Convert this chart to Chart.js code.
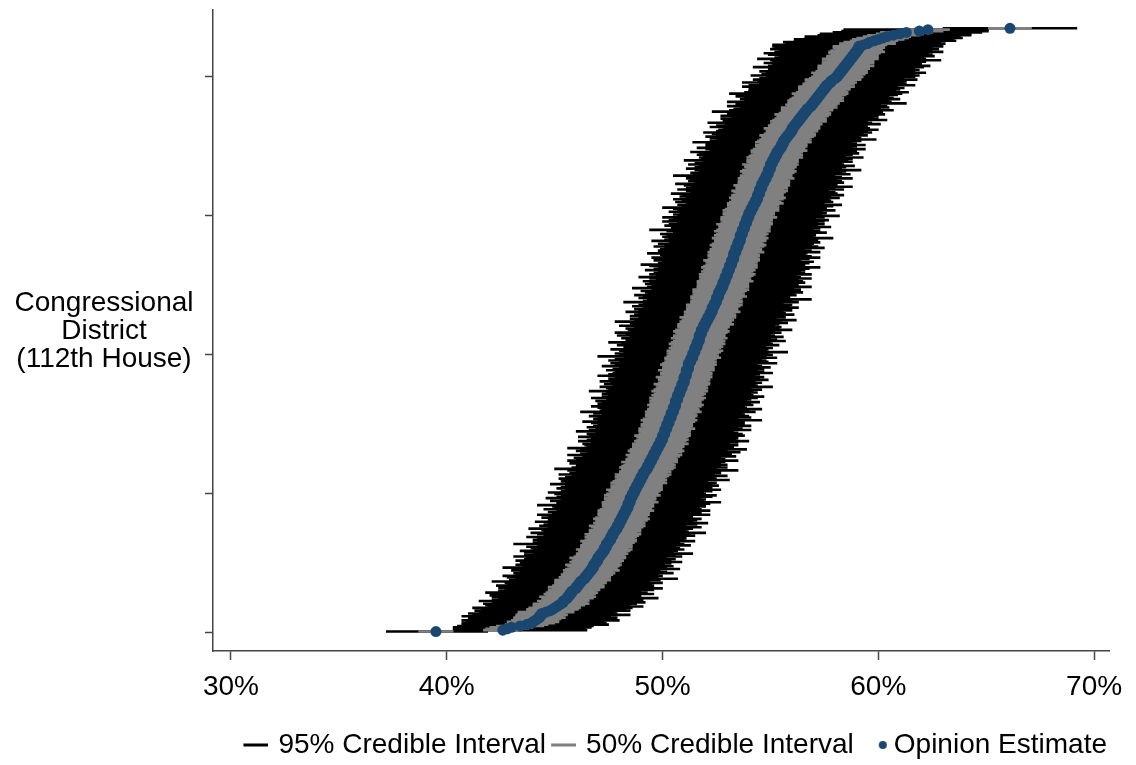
<!DOCTYPE html>
<html>
<head>
<meta charset="utf-8">
<script src="https://cdn.jsdelivr.net/npm/chart.js@4"></script>
<style>
  body { margin: 0; background: #fff; }
  #chart { display: block; }
</style>
</head>
<body>
<canvas id="chart" width="1136" height="765"></canvas>
<script>
// opinion estimate per district, sorted (rank 1 at the bottom)
const estimate = [
  39.5, 42.6, 42.8, 43.0, 43.4, 43.7, 43.9, 44.0, 44.1, 44.2,
  44.3, 44.3, 44.4, 44.4, 44.6, 44.8, 44.9, 45.0, 45.1, 45.2,
  45.3, 45.4, 45.4, 45.5, 45.6, 45.6, 45.7, 45.7, 45.8, 45.8,
  45.9, 46.0, 46.0, 46.1, 46.1, 46.2, 46.2, 46.3, 46.4, 46.4,
  46.5, 46.5, 46.6, 46.6, 46.7, 46.7, 46.8, 46.8, 46.8, 46.9,
  46.9, 47.0, 47.0, 47.0, 47.1, 47.1, 47.2, 47.2, 47.3, 47.3,
  47.3, 47.4, 47.4, 47.4, 47.5, 47.5, 47.6, 47.6, 47.6, 47.7,
  47.7, 47.7, 47.8, 47.8, 47.9, 47.9, 47.9, 48.0, 48.0, 48.0,
  48.1, 48.1, 48.1, 48.2, 48.2, 48.2, 48.3, 48.3, 48.3, 48.4,
  48.4, 48.4, 48.4, 48.5, 48.5, 48.5, 48.5, 48.6, 48.6, 48.6,
  48.7, 48.7, 48.7, 48.8, 48.8, 48.8, 48.9, 48.9, 48.9, 49.0,
  49.0, 49.0, 49.1, 49.1, 49.1, 49.2, 49.2, 49.3, 49.3, 49.3,
  49.4, 49.4, 49.4, 49.5, 49.5, 49.5, 49.6, 49.6, 49.6, 49.7,
  49.7, 49.7, 49.8, 49.8, 49.8, 49.9, 49.9, 49.9, 50.0, 50.0,
  50.0, 50.0, 50.1, 50.1, 50.1, 50.1, 50.2, 50.2, 50.2, 50.2,
  50.3, 50.3, 50.3, 50.3, 50.4, 50.4, 50.4, 50.4, 50.5, 50.5,
  50.5, 50.5, 50.6, 50.6, 50.6, 50.6, 50.6, 50.7, 50.7, 50.7,
  50.7, 50.8, 50.8, 50.8, 50.8, 50.9, 50.9, 50.9, 50.9, 51.0,
  51.0, 51.0, 51.0, 51.0, 51.1, 51.1, 51.1, 51.1, 51.1, 51.2,
  51.2, 51.2, 51.2, 51.2, 51.3, 51.3, 51.3, 51.4, 51.4, 51.4,
  51.4, 51.5, 51.5, 51.5, 51.5, 51.6, 51.6, 51.6, 51.6, 51.7,
  51.7, 51.7, 51.7, 51.7, 51.8, 51.8, 51.8, 51.8, 51.9, 51.9,
  51.9, 52.0, 52.0, 52.0, 52.1, 52.1, 52.1, 52.2, 52.2, 52.2,
  52.3, 52.3, 52.3, 52.3, 52.4, 52.4, 52.4, 52.5, 52.5, 52.5,
  52.5, 52.6, 52.6, 52.6, 52.6, 52.7, 52.7, 52.7, 52.8, 52.8,
  52.8, 52.8, 52.9, 52.9, 52.9, 52.9, 53.0, 53.0, 53.0, 53.0,
  53.1, 53.1, 53.1, 53.1, 53.2, 53.2, 53.2, 53.2, 53.3, 53.3,
  53.3, 53.3, 53.3, 53.4, 53.4, 53.4, 53.4, 53.5, 53.5, 53.5,
  53.5, 53.6, 53.6, 53.6, 53.6, 53.6, 53.7, 53.7, 53.7, 53.7,
  53.8, 53.8, 53.8, 53.8, 53.9, 53.9, 53.9, 53.9, 54.0, 54.0,
  54.0, 54.0, 54.1, 54.1, 54.1, 54.2, 54.2, 54.2, 54.3, 54.3,
  54.3, 54.4, 54.4, 54.4, 54.4, 54.5, 54.5, 54.5, 54.5, 54.6,
  54.6, 54.6, 54.6, 54.7, 54.7, 54.7, 54.8, 54.8, 54.8, 54.9,
  54.9, 54.9, 54.9, 55.0, 55.0, 55.0, 55.0, 55.1, 55.1, 55.1,
  55.2, 55.2, 55.2, 55.3, 55.3, 55.3, 55.4, 55.4, 55.5, 55.5,
  55.5, 55.6, 55.6, 55.6, 55.7, 55.7, 55.8, 55.8, 55.9, 55.9,
  56.0, 56.0, 56.0, 56.1, 56.1, 56.2, 56.2, 56.3, 56.3, 56.4,
  56.4, 56.5, 56.5, 56.6, 56.6, 56.7, 56.7, 56.8, 56.9, 56.9,
  57.0, 57.0, 57.1, 57.1, 57.2, 57.2, 57.3, 57.3, 57.4, 57.4,
  57.5, 57.5, 57.6, 57.6, 57.7, 57.8, 57.8, 57.9, 58.0, 58.1,
  58.1, 58.2, 58.2, 58.3, 58.3, 58.4, 58.4, 58.5, 58.5, 58.6,
  58.6, 58.7, 58.7, 58.8, 58.8, 58.9, 58.9, 59.0, 59.0, 59.1,
  59.1, 59.1, 59.3, 59.5, 59.6, 59.8, 60.0, 60.2, 60.4, 60.7,
  61.0, 61.3, 61.9, 62.3, 66.1
];

// distance from the estimate down to the lower end of the 95% interval
const ci95Below = [
  2.3, 2.3, 2.5, 2.7, 2.9, 3.0, 3.2, 3.1, 3.4, 3.2,
  3.3, 3.6, 3.2, 3.4, 3.1, 3.5, 3.3, 3.8, 3.2, 3.4,
  3.6, 3.3, 3.9, 3.4, 3.2, 3.5, 3.7, 3.3, 4.0, 3.4,
  3.2, 3.6, 3.4, 3.8, 3.3, 3.5, 4.1, 3.4, 3.2, 3.6,
  3.9, 3.3, 3.5, 3.2, 3.7, 3.4, 4.2, 3.3, 3.6, 3.5,
  3.2, 3.8, 3.4, 3.3, 4.0, 3.5, 3.2, 3.6, 3.9, 3.3,
  3.4, 3.7, 3.2, 4.3, 3.5, 3.3, 3.6, 3.4, 3.9, 3.2,
  3.5, 3.8, 3.3, 3.4, 4.1, 3.2, 3.6, 3.5, 3.3, 3.9,
  3.4, 3.2, 3.7, 3.5, 4.0, 3.3, 3.6, 3.2, 3.8, 3.4,
  3.5, 4.2, 3.3, 3.4, 3.7, 3.2, 3.9, 3.5, 3.3, 3.6,
  4.0, 3.4, 3.2, 3.7, 3.5, 3.3, 4.1, 3.4, 3.6, 3.2,
  3.8, 3.5, 3.3, 3.9, 3.4, 3.2, 3.6, 4.3, 3.5, 3.3,
  3.4, 3.7, 3.2, 3.9, 3.5, 3.6, 3.3, 4.0, 3.4, 3.2,
  3.7, 3.5, 4.2, 3.3, 3.4, 3.6, 3.2, 3.8, 3.5, 3.3,
  3.9, 3.4, 3.6, 3.2, 4.1, 3.5, 3.3, 3.7, 3.4, 3.2,
  3.6, 4.0, 3.3, 3.5, 3.4, 3.8, 3.2, 3.6, 4.3, 3.4,
  3.3, 3.5, 3.9, 3.2, 3.6, 3.4, 3.7, 3.3, 4.0, 3.5,
  3.2, 3.6, 3.4, 4.2, 3.3, 3.5, 3.8, 3.2, 3.6, 3.4,
  3.9, 3.3, 3.5, 3.2, 4.1, 3.6, 3.4, 3.3, 3.7, 3.5,
  3.2, 4.0, 3.4, 3.6, 3.3, 3.8, 3.5, 3.2, 4.4, 3.4,
  3.6, 3.3, 3.5, 3.9, 3.2, 3.4, 3.7, 3.5, 4.1, 3.3,
  3.4, 3.6, 3.2, 3.8, 3.5, 4.0, 3.3, 3.4, 3.6, 3.2,
  3.9, 3.5, 3.3, 4.2, 3.4, 3.6, 3.2, 3.7, 3.5, 3.3,
  4.0, 3.4, 3.6, 3.2, 3.8, 3.5, 3.3, 4.3, 3.4, 3.2,
  3.6, 3.5, 3.9, 3.3, 3.4, 3.7, 3.2, 4.1, 3.5, 3.3,
  3.6, 3.4, 3.8, 3.2, 3.5, 4.0, 3.3, 3.6, 3.4, 3.2,
  3.9, 3.5, 3.3, 3.7, 4.2, 3.4, 3.2, 3.6, 3.5, 3.8,
  3.3, 3.4, 4.0, 3.2, 3.6, 3.5, 3.3, 3.9, 3.4, 3.7,
  3.2, 4.1, 3.5, 3.3, 3.6, 3.4, 3.8, 3.2, 3.5, 4.3,
  3.4, 3.3, 3.7, 3.5, 3.2, 3.9, 3.6, 3.4, 4.0, 3.3,
  3.5, 3.2, 3.8, 3.4, 3.6, 4.2, 3.3, 3.5, 3.2, 3.7,
  3.4, 3.9, 3.3, 3.6, 3.5, 4.1, 3.2, 3.4, 3.8, 3.5,
  3.3, 3.6, 4.0, 3.2, 3.5, 3.4, 3.7, 3.3, 4.3, 3.5,
  3.6, 3.2, 3.4, 3.9, 3.5, 3.3, 3.8, 3.6, 3.2, 4.1,
  3.4, 3.5, 3.3, 3.7, 3.6, 4.0, 3.2, 3.4, 3.9, 3.5,
  3.3, 3.6, 4.2, 3.4, 3.2, 3.5, 3.8, 3.3, 3.6, 4.0,
  3.5, 3.4, 3.2, 3.9, 3.6, 3.3, 4.1, 3.5, 3.4, 3.7,
  3.2, 3.8, 3.5, 3.3, 4.3, 3.6, 3.4, 3.2, 3.9, 3.5,
  3.6, 4.0, 3.3, 3.5, 3.4, 3.8, 3.2, 4.2, 3.6, 3.4,
  3.5, 3.3, 3.9, 3.6, 3.2, 4.1, 3.4, 3.7, 3.5, 3.3,
  4.0, 3.6, 3.4, 3.8, 3.3, 3.5, 4.2, 3.6, 3.4, 3.9,
  3.5, 3.7, 4.3, 3.6, 3.4, 4.0, 4.2, 3.8, 3.6, 4.1,
  3.9, 4.0, 4.2, 3.8, 4.0, 3.7, 3.9, 3.6, 3.8, 3.5,
  3.7, 3.4, 3.6, 3.9, 3.1
];

// distance from the estimate up to the upper end of the 95% interval
const ci95Above = [
  2.4, 3.9, 3.6, 3.7, 3.4, 3.8, 3.5, 3.3, 3.9, 3.4,
  3.6, 3.3, 4.1, 3.5, 3.2, 3.7, 3.4, 3.6, 4.0, 3.3,
  3.5, 3.8, 3.2, 3.6, 4.2, 3.4, 3.3, 3.9, 3.5, 3.2,
  3.7, 4.0, 3.3, 3.5, 3.4, 3.8, 3.2, 3.6, 4.3, 3.4,
  3.5, 3.3, 3.9, 3.6, 3.2, 4.1, 3.4, 3.7, 3.3, 3.5,
  4.0, 3.4, 3.6, 3.2, 3.8, 3.5, 4.2, 3.3, 3.4, 3.7,
  3.5, 3.2, 3.9, 3.6, 3.3, 4.0, 3.4, 3.5, 3.2, 3.8,
  3.6, 4.3, 3.4, 3.3, 3.5, 3.9, 3.2, 3.6, 4.1, 3.4,
  3.5, 3.7, 3.3, 3.2, 4.0, 3.6, 3.4, 3.9, 3.5, 3.3,
  3.6, 3.2, 3.8, 4.2, 3.4, 3.5, 3.3, 3.7, 3.9, 3.4,
  3.2, 3.6, 4.0, 3.5, 3.3, 3.8, 3.4, 3.6, 3.2, 4.1,
  3.5, 3.4, 3.9, 3.3, 3.6, 3.5, 4.3, 3.2, 3.7, 3.4,
  3.6, 3.3, 3.5, 4.0, 3.4, 3.2, 3.8, 3.5, 3.6, 3.9,
  3.3, 4.2, 3.4, 3.5, 3.7, 3.2, 3.6, 4.1, 3.4, 3.5,
  3.3, 3.8, 3.6, 3.4, 3.2, 4.0, 3.5, 3.3, 3.9, 3.6,
  3.4, 3.5, 4.3, 3.2, 3.7, 3.6, 3.4, 3.3, 3.8, 3.5,
  4.1, 3.4, 3.2, 3.6, 3.5, 3.9, 3.3, 3.4, 3.7, 4.0,
  3.5, 3.3, 3.6, 3.4, 3.8, 3.2, 4.2, 3.5, 3.4, 3.6,
  3.3, 3.9, 3.5, 3.7, 3.2, 3.4, 4.0, 3.6, 3.3, 3.5,
  3.8, 3.4, 3.2, 4.1, 3.6, 3.5, 3.3, 3.9, 3.4, 3.7,
  3.5, 4.3, 3.3, 3.4, 3.6, 3.2, 3.8, 3.5, 3.4, 4.0,
  3.6, 3.3, 3.9, 3.5, 3.2, 3.7, 3.4, 4.2, 3.5, 3.6,
  3.3, 3.4, 3.8, 3.5, 4.1, 3.2, 3.6, 3.4, 3.9, 3.5,
  3.3, 3.7, 3.4, 4.0, 3.5, 3.6, 3.2, 3.8, 3.5, 4.4,
  3.4, 3.3, 3.6, 3.5, 3.9, 3.2, 3.7, 3.4, 4.1, 3.5,
  3.3, 3.8, 3.6, 3.4, 4.0, 3.5, 3.2, 3.9, 3.6, 3.4,
  3.5, 3.7, 4.2, 3.3, 3.4, 3.6, 3.8, 3.2, 3.5, 4.0,
  3.6, 3.3, 3.4, 3.9, 3.5, 3.2, 4.1, 3.7, 3.4, 3.5,
  3.8, 3.3, 3.6, 4.3, 3.4, 3.5, 3.2, 3.9, 3.6, 3.3,
  3.5, 4.0, 3.4, 3.7, 3.3, 3.6, 3.8, 3.2, 3.5, 4.2,
  3.4, 3.6, 3.3, 3.9, 3.5, 3.4, 3.7, 4.1, 3.2, 3.6,
  3.5, 3.3, 3.8, 3.4, 4.0, 3.6, 3.5, 3.2, 3.9, 3.4,
  4.2, 3.5, 3.3, 3.7, 3.6, 3.4, 4.0, 3.5, 3.2, 3.8,
  3.4, 3.6, 4.3, 3.3, 3.5, 3.9, 3.4, 3.2, 3.7, 3.5,
  3.6, 4.1, 3.3, 3.5, 3.8, 3.4, 3.6, 4.0, 3.3, 3.5,
  3.9, 3.4, 3.2, 3.6, 4.2, 3.5, 3.3, 3.7, 3.4, 3.8,
  3.5, 4.0, 3.6, 3.3, 3.4, 3.9, 3.5, 3.2, 4.1, 3.6,
  3.4, 3.5, 3.8, 3.3, 3.6, 4.0, 3.4, 3.7, 3.5, 3.2,
  4.3, 3.6, 3.4, 3.9, 3.5, 3.3, 3.6, 3.8, 4.0, 3.4,
  3.5, 3.7, 3.3, 4.1, 3.6, 3.4, 3.5, 3.9, 3.2, 3.6,
  3.8, 3.5, 4.0, 3.4, 3.6, 3.3, 3.7, 3.9, 3.5, 3.4,
  3.6, 4.2, 3.5, 3.3, 3.8, 3.6, 3.4, 4.0, 3.5, 3.7,
  3.4, 3.9, 3.5, 3.6, 3.3, 3.8, 3.5, 3.7, 3.4, 3.6,
  3.3, 3.5, 3.2, 2.8, 3.1
];

// half-width of the 50% interval
const ci50Half = [
  0.8, 0.9, 1.0, 1.0, 1.1, 1.0, 1.1, 1.2, 1.1, 1.1,
  1.2, 1.1, 1.2, 1.1, 1.3, 1.1, 1.2, 1.2, 1.1, 1.2,
  1.3, 1.1, 1.2, 1.1, 1.2, 1.3, 1.1, 1.2, 1.2, 1.1,
  1.2, 1.1, 1.3, 1.2, 1.1, 1.2, 1.2, 1.3, 1.1, 1.2,
  1.1, 1.2, 1.2, 1.1, 1.3, 1.2, 1.1, 1.2, 1.3, 1.1,
  1.2, 1.2, 1.1, 1.3, 1.2, 1.1, 1.2, 1.1, 1.2, 1.3,
  1.1, 1.2, 1.2, 1.1, 1.2, 1.3, 1.2, 1.1, 1.2, 1.2,
  1.3, 1.1, 1.2, 1.2, 1.1, 1.2, 1.3, 1.1, 1.2, 1.1,
  1.2, 1.3, 1.2, 1.1, 1.2, 1.2, 1.1, 1.3, 1.2, 1.1,
  1.2, 1.1, 1.2, 1.3, 1.1, 1.2, 1.2, 1.1, 1.3, 1.2,
  1.1, 1.2, 1.3, 1.2, 1.1, 1.2, 1.1, 1.3, 1.2, 1.2,
  1.1, 1.2, 1.2, 1.3, 1.1, 1.2, 1.1, 1.2, 1.3, 1.2,
  1.2, 1.1, 1.3, 1.2, 1.2, 1.1, 1.2, 1.3, 1.1, 1.2,
  1.3, 1.2, 1.1, 1.2, 1.2, 1.3, 1.1, 1.2, 1.2, 1.1,
  1.2, 1.3, 1.2, 1.1, 1.2, 1.2, 1.3, 1.1, 1.2, 1.2,
  1.1, 1.2, 1.3, 1.2, 1.1, 1.2, 1.2, 1.1, 1.3, 1.2,
  1.2, 1.1, 1.2, 1.3, 1.2, 1.1, 1.2, 1.2, 1.3, 1.1,
  1.2, 1.2, 1.1, 1.3, 1.2, 1.2, 1.1, 1.2, 1.3, 1.2,
  1.1, 1.2, 1.2, 1.3, 1.1, 1.2, 1.2, 1.1, 1.3, 1.2,
  1.2, 1.1, 1.3, 1.2, 1.2, 1.1, 1.2, 1.3, 1.2, 1.1,
  1.2, 1.2, 1.3, 1.1, 1.2, 1.2, 1.1, 1.3, 1.2, 1.2,
  1.1, 1.3, 1.2, 1.2, 1.1, 1.2, 1.3, 1.2, 1.1, 1.2,
  1.2, 1.3, 1.1, 1.2, 1.2, 1.1, 1.3, 1.2, 1.2, 1.1,
  1.3, 1.2, 1.1, 1.2, 1.2, 1.3, 1.1, 1.2, 1.2, 1.1,
  1.2, 1.3, 1.2, 1.1, 1.2, 1.2, 1.3, 1.1, 1.2, 1.2,
  1.1, 1.2, 1.3, 1.2, 1.1, 1.2, 1.2, 1.3, 1.1, 1.2,
  1.2, 1.1, 1.3, 1.2, 1.2, 1.1, 1.2, 1.3, 1.2, 1.1,
  1.2, 1.2, 1.1, 1.3, 1.2, 1.2, 1.1, 1.2, 1.3, 1.2,
  1.1, 1.2, 1.2, 1.3, 1.1, 1.2, 1.2, 1.1, 1.3, 1.2,
  1.2, 1.1, 1.2, 1.3, 1.2, 1.1, 1.2, 1.2, 1.3, 1.1,
  1.2, 1.2, 1.1, 1.3, 1.2, 1.2, 1.1, 1.2, 1.3, 1.2,
  1.1, 1.2, 1.3, 1.2, 1.2, 1.1, 1.2, 1.3, 1.1, 1.2,
  1.2, 1.3, 1.1, 1.2, 1.2, 1.1, 1.3, 1.2, 1.2, 1.1,
  1.2, 1.3, 1.2, 1.1, 1.2, 1.2, 1.3, 1.1, 1.2, 1.2,
  1.1, 1.3, 1.2, 1.2, 1.1, 1.2, 1.3, 1.2, 1.1, 1.2,
  1.2, 1.1, 1.3, 1.2, 1.2, 1.1, 1.2, 1.3, 1.2, 1.1,
  1.2, 1.2, 1.3, 1.1, 1.2, 1.2, 1.1, 1.3, 1.2, 1.2,
  1.1, 1.2, 1.3, 1.2, 1.1, 1.2, 1.2, 1.3, 1.1, 1.2,
  1.2, 1.1, 1.3, 1.2, 1.2, 1.1, 1.2, 1.3, 1.2, 1.1,
  1.2, 1.2, 1.3, 1.1, 1.2, 1.2, 1.1, 1.3, 1.2, 1.2,
  1.1, 1.2, 1.3, 1.2, 1.1, 1.2, 1.2, 1.3, 1.1, 1.2,
  1.2, 1.1, 1.3, 1.2, 1.2, 1.1, 1.2, 1.3, 1.2, 1.1,
  1.2, 1.2, 1.1, 1.3, 1.2, 1.1, 1.2, 1.2, 1.1, 1.2,
  1.1, 1.2, 1.1, 1.0, 1.0
];

const xTickValues = [30, 40, 50, 60, 70];
const yTickValues = [0, 100, 200, 300, 400];
const yTitleLines = ["Congressional", "District", "(112th House)"];
const legendText = ["95% Credible Interval", "50% Credible Interval", "Opinion Estimate"];

const FONT = "'Liberation Sans', Arial, sans-serif";
const NAVY = "#1a476f";
const GRAY = "#808080";
const AXIS = "#444";

Chart.defaults.font.family = FONT;
Chart.defaults.color = "#000";

// rows for the library: rank on y, interval / estimate on x
const rows95 = estimate.map((v, i) => ({ y: i + 1, x: [v - ci95Below[i], v + ci95Above[i]] }));
const rows50 = estimate.map((v, i) => ({ y: i + 1, x: [v - ci50Half[i], v + ci50Half[i]] }));
const points = estimate.map((v, i) => ({ y: i + 1, x: v }));

// small legend markers
function lineMark(color) {
  const c = document.createElement("canvas");
  c.width = 32; c.height = 4;
  const g = c.getContext("2d");
  g.fillStyle = color;
  g.fillRect(7, 0.5, 25, 3);
  return c;
}
function dotMark(color) {
  const c = document.createElement("canvas");
  c.width = 44; c.height = 10;
  const g = c.getContext("2d");
  g.fillStyle = color;
  g.beginPath();
  g.arc(37, 5, 4, 0, Math.PI * 2);
  g.fill();
  return c;
}
const legendMarks = [lineMark("#000"), lineMark(GRAY), dotMark(NAVY)];

// horizontal y title, Stata style
const yTitlePlugin = {
  id: "yTitle",
  afterDraw(chart) {
    const a = chart.chartArea;
    const c = chart.ctx;
    const mid = (a.top + a.bottom) / 2;
    c.save();
    c.font = "28px " + FONT;
    c.fillStyle = "#000";
    c.textAlign = "center";
    c.textBaseline = "alphabetic";
    yTitleLines.forEach((t, i) => c.fillText(t, a.left - 109, mid + 8 + (i - 1) * 28));
    c.restore();
  }
};

new Chart(document.getElementById("chart"), {
  type: "bar",
  data: {
    datasets: [
      {
        type: "scatter",
        label: legendText[2],
        data: points,
        backgroundColor: NAVY,
        borderWidth: 0,
        pointRadius: 5.5,
        pointHoverRadius: 5.5,
        order: 1
      },
      {
        type: "bar",
        label: legendText[1],
        indexAxis: "y",
        data: rows50,
        backgroundColor: GRAY,
        barThickness: 2,
        grouped: false,
        order: 2
      },
      {
        type: "bar",
        label: legendText[0],
        indexAxis: "y",
        data: rows95,
        backgroundColor: "#000",
        barThickness: 2,
        grouped: false,
        order: 3
      }
    ]
  },
  options: {
    responsive: false,
    animation: false,
    events: [],
    layout: { padding: { top: 10, right: 27, bottom: -4, left: 0 } },
    scales: {
      x: {
        type: "linear",
        offset: false,
        min: 29.17,
        max: 70.69,
        afterBuildTicks: s => { s.ticks = xTickValues.map(v => ({ value: v })); },
        afterFit: s => { s.height = 78; },
        ticks: {
          callback: v => v + "%",
          font: { size: 28 },
          color: "#000",
          padding: 10,
          maxRotation: 0
        },
        grid: { offset: false, drawOnChartArea: false, tickLength: 9, color: AXIS, tickWidth: 1.5 },
        border: { color: AXIS, width: 1.5 }
      },
      y: {
        type: "linear",
        offset: false,
        min: -13,
        max: 448,
        afterBuildTicks: s => { s.ticks = yTickValues.map(v => ({ value: v })); },
        afterFit: s => { s.width = 213; },
        ticks: { callback: () => "" },
        grid: { offset: false, drawOnChartArea: false, tickLength: 8, color: AXIS, tickWidth: 1.5 },
        border: { color: AXIS, width: 1.5 }
      }
    },
    plugins: {
      tooltip: { enabled: false },
      legend: {
        position: "bottom",
        align: "end",
        labels: {
          usePointStyle: true,
          boxWidth: 24,
          boxHeight: 10,
          padding: 2,
          font: { size: 28 },
          color: "#000",
          generateLabels: () => legendText.map((t, i) => ({
            text: t,
            pointStyle: legendMarks[i],
            fillStyle: "#000",
            strokeStyle: "#000",
            lineWidth: 0,
            hidden: false,
            datasetIndex: 2 - i
          }))
        }
      }
    }
  },
  plugins: [yTitlePlugin]
});
</script>
</body>
</html>
